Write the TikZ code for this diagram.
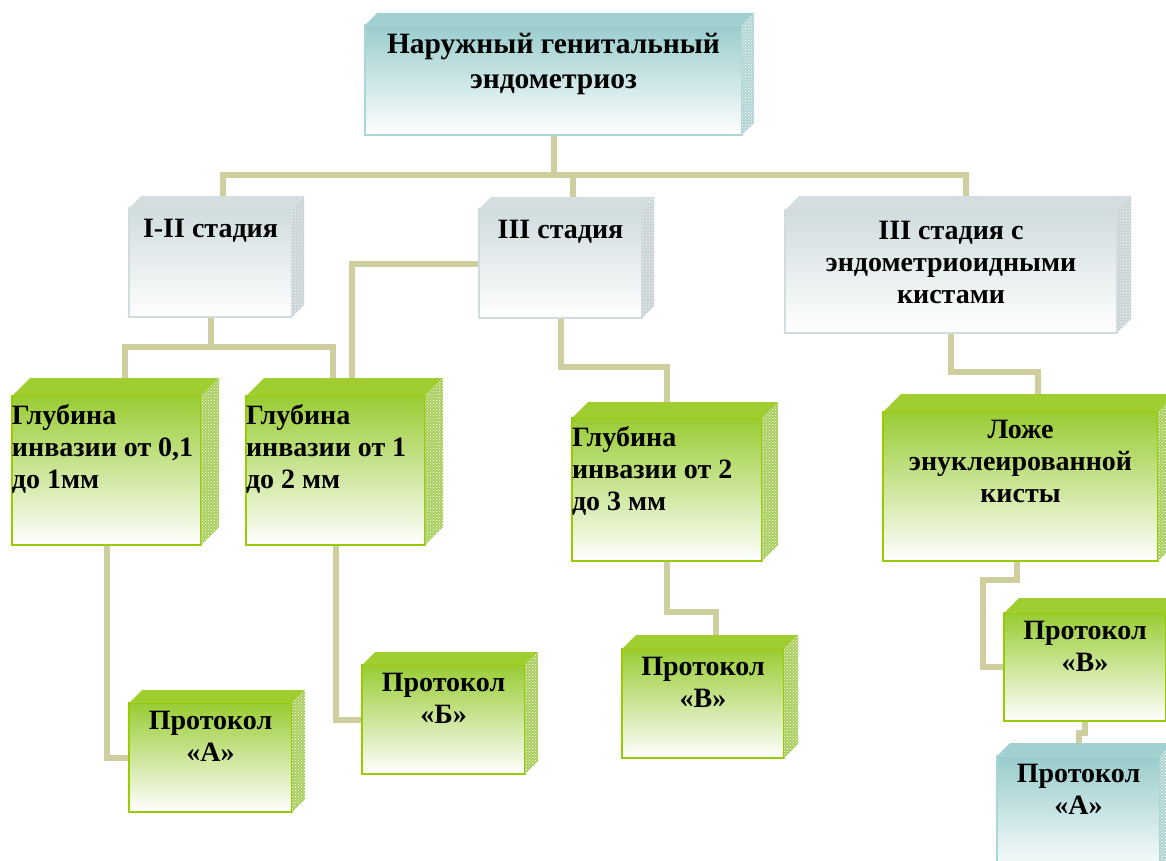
\documentclass[tikz,border=0pt]{standalone}
\usepackage{fontspec}
\setmainfont{Liberation Serif}
\usetikzlibrary{calc,patterns,positioning}
\definecolor{linkc}{RGB}{206,206,158}
\definecolor{tealfront}{RGB}{153,204,204}
\definecolor{tealedge}{RGB}{170,214,214}
\definecolor{tealcap}{RGB}{160,208,208}
\definecolor{tealside}{RGB}{178,212,212}
\definecolor{grayfront}{RGB}{208,220,222}
\definecolor{grayedge}{RGB}{208,220,222}
\definecolor{graycap}{RGB}{212,222,224}
\definecolor{grayside}{RGB}{200,210,212}
\definecolor{greenfront}{RGB}{153,204,51}
\definecolor{greenedge}{RGB}{153,204,0}
\definecolor{greencap}{RGB}{160,206,48}
\definecolor{greenside}{RGB}{168,206,92}
\pgfdeclarelayer{background}
\pgfsetlayers{background,main}
\tikzset{
  link/.style     = {draw=linkc, line width=6pt},
  face/.style     = {anchor=north west, inner sep=0pt, outer sep=0pt, line width=1.5pt,
                     font=\bfseries\fontsize{28}{32}\selectfont},
  tealbox/.style  = {face, draw=tealedge, top color=tealfront, bottom color=white},
  graybox/.style  = {face, draw=grayedge, top color=grayfront, bottom color=white},
  greenbox/.style = {face, draw=greenedge, top color=greenfront, bottom color=white},
  teal cap/.style   = {fill=tealcap},
  gray cap/.style   = {fill=graycap},
  green cap/.style  = {fill=greencap},
  teal side/.style  = {fill=tealside, postaction={pattern=crosshatch dots, pattern color=white}},
  gray side/.style  = {fill=grayside, postaction={pattern=crosshatch dots, pattern color=white}},
  green side/.style = {fill=greenside, postaction={pattern=crosshatch dots, pattern color=white}}
}
\newcommand{\toppad}{8.5pt}
\newcommand{\ctext}[3]{\parbox[c][#1][t]{#2}{\centering\vspace*{\toppad}#3\par}}
\newcommand{\ltext}[3]{\parbox[c][#1][t]{#2}{\raggedright\vspace*{\toppad}#3\par}}

\begin{document}
\begin{tikzpicture}[x=1pt, y=-1pt]  % pixel-like units, y runs downwards
  \useasboundingbox (0,0) rectangle (1166,861);
  \clip (0,0) rectangle (1166,861);

  %  --  Root
  \node[tealbox, font=\bfseries\fontsize{29.5}{35}\selectfont] (nar) at (365,25)
    {\ctext{110pt}{377pt}{Наружный генитальный\\ эндометриоз}};

  %  --  Stages
  \node[graybox] (st12) at (129,208) {\ctext{109pt}{163pt}{\vspace*{3pt}I-II стадия}};
  \node[graybox] (st3)  at (479,209) {\ctext{109pt}{163pt}{\vspace*{3pt}III стадия}};
  \node[graybox] (st3c) at (785,210) {\ctext{123pt}{332pt}{\vspace*{3pt}III стадия с\\ эндометриоидными\\ кистами}};

  %  --  Depth of invasion
  \node[greenbox] (g01) at (12,396)  {\ltext{149pt}{189pt}{Глубина\\ инвазии от 0,1\\ до 1мм}};
  \node[greenbox] (g12) at (246,396) {\ltext{149pt}{179pt}{Глубина\\ инвазии от 1\\ до 2 мм}};
  \node[greenbox] (g23) at (572,418) {\ltext{143pt}{190pt}{Глубина\\ инвазии от 2\\ до 3 мм}};
  \node[greenbox] (loz) at (883,412) {\ctext{149pt}{275pt}{Ложе\\ энуклеированной\\ кисты}};

  %  --  Protocols
  \node[greenbox] (prA)  at (129,703)  {\ctext{109pt}{163pt}{Протокол\\ «А»}};
  \node[greenbox] (prB)  at (362,665)  {\ctext{109pt}{163pt}{Протокол\\ «Б»}};
  \node[greenbox] (prV)  at (622,649)  {\ctext{109pt}{162pt}{Протокол\\ «В»}};
  \node[greenbox] (prBr) at (1004,613) {\ctext{108pt}{162pt}{Протокол\\ «В»}};
  \node[tealbox]  (prAr) at (997,756)  {\ctext{120pt}{163pt}{Протокол\\ «А»}};

  %  --  Top and right faces of every box
  \foreach \n/\d/\c in {nar/12/teal, st12/12/gray, st3/12/gray, st3c/14/gray,
                        g01/18/green, g12/18/green, g23/16/green, loz/18/green,
                        prA/13/green, prB/13/green, prV/14/green, prBr/15/green, prAr/13/teal}{
    \fill[\c\space cap] (\n.north west) -- ++(\d,-\d) -- ($(\n.north east)+(\d,-\d)$) -- (\n.north east) -- cycle;
    \fill[\c\space side] (\n.north east) -- ++(\d,-\d) -- ($(\n.south east)+(\d,-\d)$) -- (\n.south east) -- cycle;
  }

  %  --  Connectors (behind the boxes)
  \begin{pgfonlayer}{background}
    \draw[link] (nar.south) -- ++(0,40) coordinate (trunk);
    \draw[link] ($(st12.north)+(12.5,0)$) |- (trunk) -| ($(st3c.north)+(15,0)$);
    \draw[link] (trunk) -| ($(st3.north)+(12.5,0)$);
    \draw[link] (st12.south) -- ++(0,30) coordinate (fork) -| ($(g01.north)+(18.5,0)$);
    \draw[link] (fork) -| ([xshift=-2.5pt]g12.north);
    \draw[link] (st3.west) -| ($(g12.north)+(16.5,0)$);
    \draw[link] (st3.south) -- ++(0,49) -| (g23.north);
    \draw[link] (st3c.south) -- ++(0,39) -| ($(loz.north)+(17.5,0)$);
    \draw[link] (g01.south) |- (prA.west);
    \draw[link] (g12.south) |- (prB.west);
    \draw[link] (g23.south) -- ++(0,51) -| ($(prV.north)+(13,0)$);
    \draw[link] ([xshift=-3.5pt]loz.south) -- ++(0,19) -| ($(prBr.west)+(-21,0)$) -- (prBr.west);
    \draw[link] (prBr.south) -- ++(0,12) -| (prAr.north);
  \end{pgfonlayer}
\end{tikzpicture}
\end{document}
